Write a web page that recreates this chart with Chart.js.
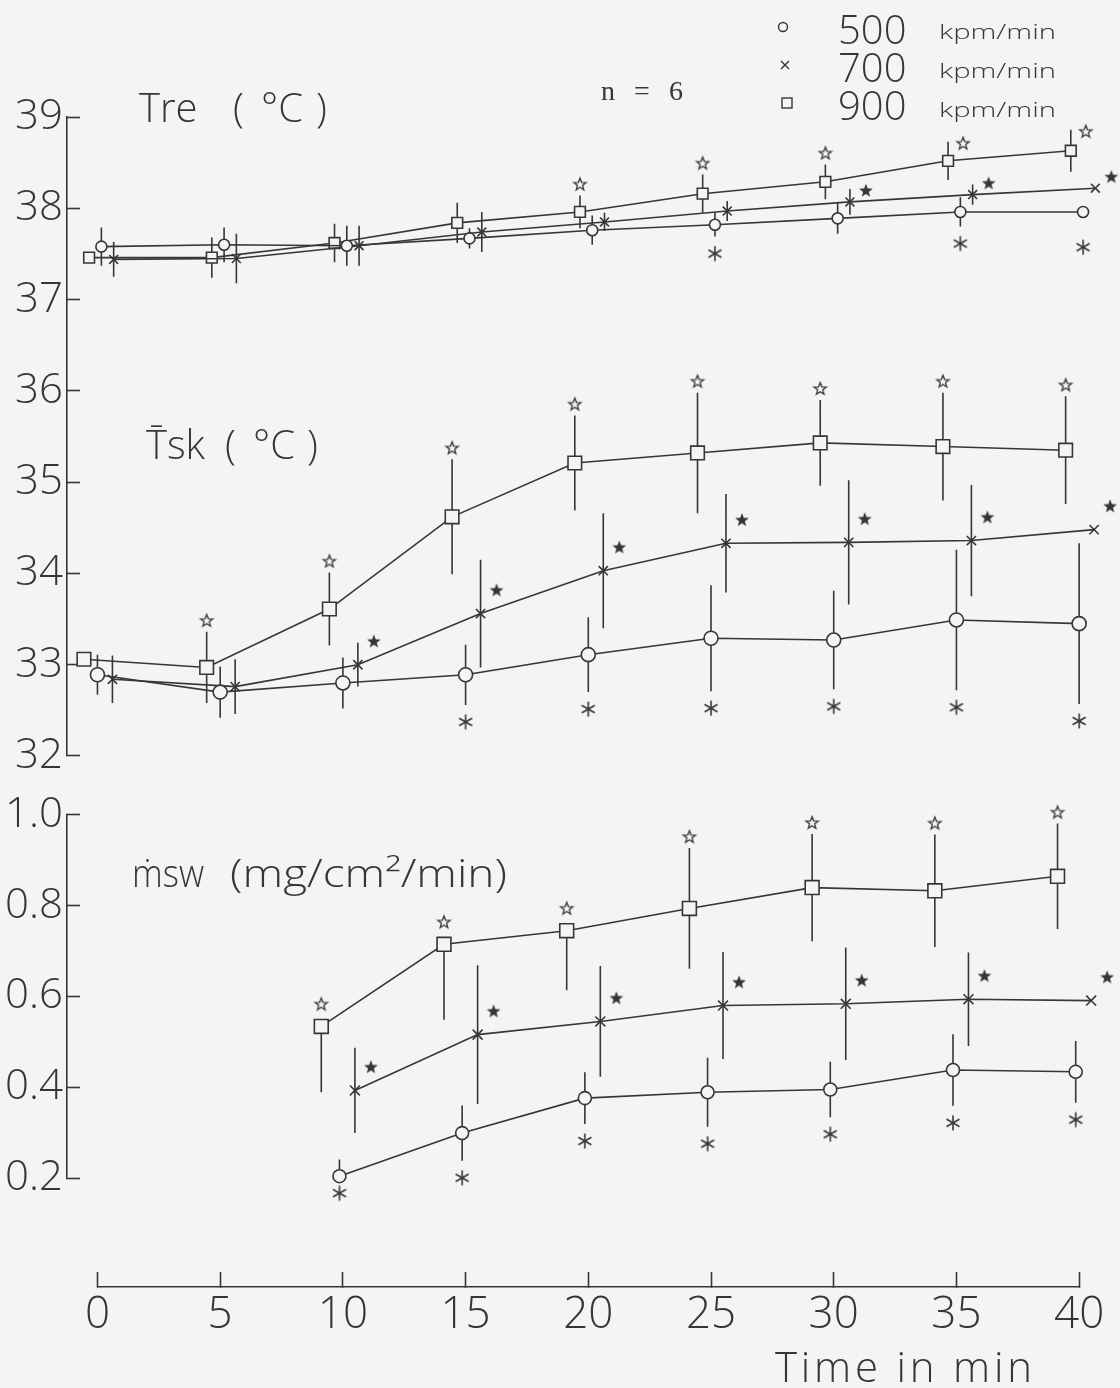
<!DOCTYPE html>
<html><head><meta charset="utf-8">
<script src="https://cdn.jsdelivr.net/npm/chart.js@4.4.1/dist/chart.umd.min.js"></script>
<style>
html,body{margin:0;padding:0;background:#f4f4f4;}
#wrap{position:relative;width:1120px;height:1388px;overflow:hidden;}
#c{position:absolute;left:0;top:0;}
#ov{position:absolute;left:0;top:0;}
</style></head><body>
<div id="wrap">
<canvas id="c" width="1120" height="1388"></canvas>
<svg id="ov" width="1120" height="1388" xmlns="http://www.w3.org/2000/svg">
 <g font-family="'Open Sans', sans-serif" font-weight="300" fill="#363636">
  <text x="139" y="122" font-size="40">Tre</text>
  <text x="233" y="122" font-size="40">(</text>
  <text x="261" y="122" font-size="40">°C</text>
  <text x="316" y="122" font-size="40">)</text>
  <text x="146" y="459" font-size="40">T&#x304;sk</text>
  <text x="225" y="459" font-size="40">(</text>
  <text x="253" y="459" font-size="40">°C</text>
  <text x="307" y="459" font-size="40">)</text>
  <text x="132" y="887" font-size="38" textLength="72" lengthAdjust="spacingAndGlyphs">ṁsw</text>
  <text x="230" y="887" font-size="38" textLength="277" lengthAdjust="spacingAndGlyphs">(mg/cm²/min)</text>
  <text x="775" y="1382" font-size="42" textLength="257" lengthAdjust="spacing">Time in min</text>
  <text x="838" y="43.5" font-size="40">500</text>
  <text x="838" y="82" font-size="40">700</text>
  <text x="838" y="120" font-size="40">900</text>
  <text x="939" y="39" font-size="21" textLength="117" lengthAdjust="spacingAndGlyphs">kpm/min</text>
  <text x="939" y="78" font-size="21" textLength="117" lengthAdjust="spacingAndGlyphs">kpm/min</text>
  <text x="939" y="117" font-size="21" textLength="117" lengthAdjust="spacingAndGlyphs">kpm/min</text>
 </g>
 <text x="601" y="100" font-family="'Liberation Serif', serif" font-size="28" fill="#363636" textLength="82" lengthAdjust="spacing">n = 6</text>
 <g stroke="#363636" stroke-width="1.4" fill="none">
  <circle cx="783" cy="27" r="4.5"/>
  <path d="M781 61 L789 69 M789 61 L781 69"/>
  <rect x="782" y="98" width="10" height="10"/>
 </g>
</svg>
</div>
<script>
// ---------------- data ----------------
const time = [0, 5, 10, 15, 20, 25, 30, 35, 40];
const mswTime = [10, 15, 20, 25, 30, 35, 40];
const timeTicks = [0, 5, 10, 15, 20, 25, 30, 35, 40];
const tempTicks = [32, 33, 34, 35, 36, 37, 38, 39];
const mswTicks = [0.2, 0.4, 0.6, 0.8, 1.0];

// Tre (°C)
const tre500 = [37.58, 37.60, 37.59, 37.67, 37.76, 37.82, 37.89, 37.96, 37.96];
const tre700 = [37.44, 37.45, 37.59, 37.74, 37.85, 37.97, 38.07, 38.15, 38.22];
const tre900 = [37.46, 37.46, 37.62, 37.84, 37.96, 38.16, 38.29, 38.52, 38.63];
const tre500Sd = [0.21, 0.19, 0.22, 0.11, 0.16, 0.13, 0.17, 0.16, 0.20];
const tre700Sd = [0.19, 0.27, 0.22, 0.22, 0.10, 0.11, 0.14, 0.11, 0.14];
const tre900Sd = [0.16, 0.22, 0.21, 0.22, 0.18, 0.21, 0.19, 0.21, 0.23];
const tre500Sig = [0, 0, 0, 0, 0, 1, 0, 1, 1];
const tre700Sig = [0, 0, 0, 0, 0, 0, 1, 1, 1];
const tre900Sig = [0, 0, 0, 0, 1, 1, 1, 1, 1];

// mean Tsk (°C)
const tsk500 = [32.89, 32.70, 32.80, 32.89, 33.11, 33.29, 33.27, 33.49, 33.45];
const tsk700 = [32.84, 32.76, 33.00, 33.56, 34.03, 34.33, 34.34, 34.36, 34.48];
const tsk900 = [33.06, 32.97, 33.61, 34.62, 35.21, 35.32, 35.43, 35.39, 35.35];
const tsk500Sd = [0.22, 0.28, 0.28, 0.33, 0.41, 0.58, 0.54, 0.77, 0.88];
const tsk700Sd = [0.26, 0.30, 0.24, 0.59, 0.63, 0.54, 0.68, 0.61, 0.68];
const tsk900Sd = [0.29, 0.39, 0.40, 0.63, 0.52, 0.66, 0.47, 0.59, 0.59];
const tsk500Sig = [0, 0, 0, 1, 1, 1, 1, 1, 1];
const tsk700Sig = [0, 0, 1, 1, 1, 1, 1, 1, 1];
const tsk900Sig = [0, 1, 1, 1, 1, 1, 1, 1, 1];

// msw (mg/cm2/min)
const msw500 = [0.204, 0.299, 0.376, 0.389, 0.395, 0.438, 0.434];
const msw700 = [0.393, 0.516, 0.545, 0.580, 0.584, 0.594, 0.591];
const msw900 = [0.534, 0.715, 0.745, 0.794, 0.840, 0.833, 0.865];
const msw500Up = [0.037, 0.061, 0.057, 0.076, 0.061, 0.079, 0.068];
const msw500Dn = [0.000, 0.061, 0.057, 0.076, 0.061, 0.079, 0.068];
const msw700Sd = [0.094, 0.153, 0.122, 0.118, 0.124, 0.103, 0.118];
const msw900Up = [0.000, 0.000, 0.000, 0.133, 0.118, 0.124, 0.116];
const msw900Dn = [0.145, 0.166, 0.131, 0.133, 0.118, 0.124, 0.116];
const msw500Sig = [1, 1, 1, 1, 1, 1, 1];
const msw700Sig = [1, 1, 1, 1, 1, 1, 1];
const msw900Sig = [1, 1, 1, 1, 1, 1, 1];

// ---------------- style ----------------
const INK = '#363636', BG = '#f4f4f4', LW = 1.6;
const FONT = "'Open Sans', sans-serif";

function glyph(kind, dx, dy) {
  const R = 9;
  const c = document.createElement('canvas');
  c.width = 2 * (Math.abs(dx) + R + 2);
  c.height = 2 * (Math.abs(dy) + R + 2);
  const g = c.getContext('2d');
  g.translate(c.width / 2 + dx, c.height / 2 + dy);
  g.strokeStyle = INK; g.fillStyle = INK; g.lineWidth = 1.3;
  if (kind === 'open' || kind === 'fill') {
    const ro = kind === 'open' ? 6.5 : 7.2, ri = ro * 0.42;
    g.beginPath();
    for (let k = 0; k < 10; k++) {
      const a = -Math.PI / 2 + k * Math.PI / 5, r = k % 2 ? ri : ro;
      g.lineTo(r * Math.cos(a), r * Math.sin(a));
    }
    g.closePath();
    if (kind === 'open') g.stroke(); else g.fill();
  } else {
    g.lineWidth = 1.6;
    for (let k = 0; k < 3; k++) {
      const a = Math.PI / 2 + k * Math.PI / 3;
      g.beginPath();
      g.moveTo(-7.5 * Math.cos(a), -7.5 * Math.sin(a));
      g.lineTo(7.5 * Math.cos(a), 7.5 * Math.sin(a));
      g.stroke();
    }
  }
  return c;
}
const G = {
  openUp: glyph('open', 0, -11),
  openUpFar: glyph('open', 0, -22),
  openSide: glyph('open', 15, 2),
  fillTre: glyph('fill', 16, -11),
  fillHi: glyph('fill', 16, -23),
  ast: glyph('ast', 0, 17)
};

const panels = {
  tre: { y: 'yT', dodge: { sq: -0.34, ci: 0.16, x: 0.66 }, r: { sq: 7.6, ci: 5.5, x: 6.3 } },
  tsk: { y: 'yT', dodge: { sq: -0.55, ci: 0.0, x: 0.61 }, r: { sq: 9.6, ci: 7.0, x: 6.5 } },
  msw: { y: 'yB', dodge: { sq: -0.88, ci: -0.14, x: 0.49 }, r: { sq: 9.8, ci: 6.5, x: 7.0 } }
};

function series(t, v, p, key, style) {
  return {
    type: 'line', data: t.map((x, i) => ({ x: x + p.dodge[key], y: v[i] })),
    xAxisID: 'x', yAxisID: p.y, borderColor: INK, borderWidth: LW, tension: 0, fill: false,
    pointStyle: style, pointRadius: p.r[key], pointBorderColor: INK, pointBorderWidth: LW,
    pointBackgroundColor: BG, clip: false, order: 1
  };
}
function bars(t, v, up, dn, p, key) {
  const d = [];
  t.forEach((x, i) => {
    const xx = x + p.dodge[key];
    d.push({ x: xx, y: v[i] - dn[i] }, { x: xx, y: v[i] + up[i] }, { x: xx, y: null });
  });
  return {
    type: 'line', data: d, xAxisID: 'x', yAxisID: p.y, borderColor: INK, borderWidth: LW,
    pointRadius: 0, spanGaps: false, tension: 0, fill: false, clip: false, order: 2
  };
}
function marks(items, p) {
  return {
    type: 'scatter', data: items, xAxisID: 'x', yAxisID: p.y,
    pointStyle: c => (c.raw && c.raw.g) || 'circle', pointRadius: 6,
    pointBackgroundColor: 'rgba(0,0,0,0)', pointBorderColor: 'rgba(0,0,0,0)',
    clip: false, order: 0
  };
}
function openStars(t, v, up, sig, p, sideFrom) {
  const out = [];
  t.forEach((x, i) => {
    if (!sig[i]) return;
    const g = (sideFrom !== undefined && x >= sideFrom) ? G.openSide : (up[i] > 0 ? G.openUp : G.openUpFar);
    out.push({ x: x + p.dodge.sq, y: v[i] + up[i], g });
  });
  return marks(out, p);
}
function fillStars(t, v, sig, p, g) {
  const out = [];
  t.forEach((x, i) => { if (sig[i]) out.push({ x: x + p.dodge.x, y: v[i], g }); });
  return marks(out, p);
}
function asts(t, v, dn, sig, p) {
  const out = [];
  t.forEach((x, i) => { if (sig[i]) out.push({ x: x + p.dodge.ci, y: v[i] - dn[i], g: G.ast }); });
  return marks(out, p);
}

const P = panels;
const datasets = [
  // Tre
  bars(time, tre500, tre500Sd, tre500Sd, P.tre, 'ci'),
  bars(time, tre700, tre700Sd, tre700Sd, P.tre, 'x'),
  bars(time, tre900, tre900Sd, tre900Sd, P.tre, 'sq'),
  series(time, tre500, P.tre, 'ci', 'circle'),
  series(time, tre700, P.tre, 'x', 'crossRot'),
  series(time, tre900, P.tre, 'sq', 'rect'),
  openStars(time, tre900, tre900Sd, tre900Sig, P.tre, 35),
  fillStars(time, tre700, tre700Sig, P.tre, G.fillTre),
  asts(time, tre500, tre500Sd, tre500Sig, P.tre),
  // Tsk
  bars(time, tsk500, tsk500Sd, tsk500Sd, P.tsk, 'ci'),
  bars(time, tsk700, tsk700Sd, tsk700Sd, P.tsk, 'x'),
  bars(time, tsk900, tsk900Sd, tsk900Sd, P.tsk, 'sq'),
  series(time, tsk500, P.tsk, 'ci', 'circle'),
  series(time, tsk700, P.tsk, 'x', 'crossRot'),
  series(time, tsk900, P.tsk, 'sq', 'rect'),
  openStars(time, tsk900, tsk900Sd, tsk900Sig, P.tsk),
  fillStars(time, tsk700, tsk700Sig, P.tsk, G.fillHi),
  asts(time, tsk500, tsk500Sd, tsk500Sig, P.tsk),
  // msw
  bars(mswTime, msw500, msw500Up, msw500Dn, P.msw, 'ci'),
  bars(mswTime, msw700, msw700Sd, msw700Sd, P.msw, 'x'),
  bars(mswTime, msw900, msw900Up, msw900Dn, P.msw, 'sq'),
  series(mswTime, msw500, P.msw, 'ci', 'circle'),
  series(mswTime, msw700, P.msw, 'x', 'crossRot'),
  series(mswTime, msw900, P.msw, 'sq', 'rect'),
  openStars(mswTime, msw900, msw900Up, msw900Sig, P.msw),
  fillStars(mswTime, msw700, msw700Sig, P.msw, G.fillHi),
  asts(mswTime, msw500, msw500Dn, msw500Sig, P.msw)
];

// ---------------- scales ----------------
const hidden = {
  type: 'linear', display: true, min: 0, max: 1,
  grid: { display: false }, border: { display: false }, ticks: { display: false }
};
const tickFontY = { family: FONT, weight: '300', size: 42, lineHeight: 1.2 };
const tickFontX = { family: FONT, weight: '300', size: 44, lineHeight: 1.2 };
function yAxis(min, max, tickArr, fmt, stackWeight, weight) {
  return {
    type: 'linear', position: 'left', stack: 'ys', stackWeight, weight, min, max,
    afterBuildTicks: s => { s.ticks = tickArr.map(v => ({ value: v })); },
    grid: { drawOnChartArea: false, drawTicks: true, tickLength: -13, tickColor: INK, tickWidth: LW },
    border: { display: true, color: INK, width: LW },
    ticks: { font: tickFontY, color: INK, padding: 17, callback: fmt, autoSkip: false },
    afterFit: s => { s.width = 67; s.paddingTop = 0; s.paddingBottom = 0; }
  };
}
function gapAxis(stackWeight, weight) {
  return Object.assign({}, hidden, { position: 'left', stack: 'ys', stackWeight, weight,
    afterFit: s => { s.width = 67; } });
}
function sideX(stackWeight, weight) {
  return Object.assign({}, hidden, { position: 'bottom', stack: 'xs', stackWeight, weight,
    afterFit: s => { s.height = 101; s.paddingLeft = 0; s.paddingRight = 0; } });
}

new Chart(document.getElementById('c'), {
  data: { datasets },
  options: {
    responsive: false, animation: false, devicePixelRatio: 1, events: [],
    layout: { padding: { top: 117, right: 10, bottom: 0, left: 0 } },
    plugins: { legend: { display: false }, tooltip: { enabled: false } },
    scales: {
      xL: sideX(30.5, 1),
      x: {
        type: 'linear', position: 'bottom', stack: 'xs', stackWeight: 983, weight: 2, min: 0, max: 40,
        afterBuildTicks: s => { s.ticks = timeTicks.map(v => ({ value: v })); },
        grid: { drawOnChartArea: false, drawTicks: true, tickLength: -15, tickColor: INK, tickWidth: LW },
        border: { display: true, color: INK, width: LW },
        ticks: { font: tickFontX, color: INK, padding: 17, autoSkip: false, maxRotation: 0,
          callback: v => String(v) },
        afterFit: s => { s.height = 101; s.paddingLeft = 0; s.paddingRight = 0; }
      },
      xR: sideX(29.5, 3),
      gap2: gapAxis(109, 1),
      yB: yAxis(0.2, 1.0, mswTicks, v => Number(v).toFixed(1), 363, 2),
      gap1: gapAxis(59, 3),
      yT: yAxis(32, 39, tempTicks, v => String(v), 639, 4)
    }
  }
});
</script>
</body></html>
